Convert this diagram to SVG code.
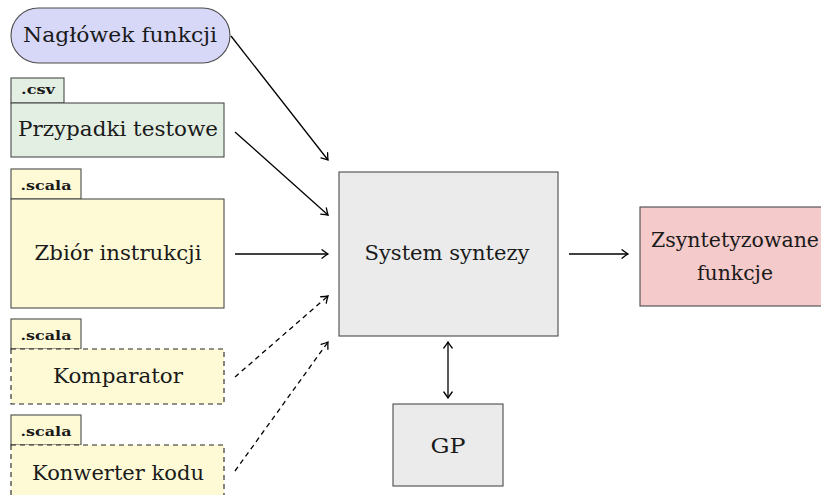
<svg xmlns="http://www.w3.org/2000/svg" width="821" height="495" viewBox="0 0 821 495">
<style>
.box{stroke:#4a4a4a;stroke-width:1.1}
.dash{stroke:#222;stroke-dasharray:5 4}
.lav{fill:#d7d7f7}
.grn{fill:#e3efe3}
.yel{fill:#fefad6}
.gry{fill:#ebebeb}
.pnk{fill:#f4caca}
.t{font-family:"DejaVu Serif","Liberation Serif",serif;font-size:20.5px;fill:#1a1a1a;text-anchor:middle}
.tab{font-family:"DejaVu Serif","Liberation Serif",serif;font-size:12.5px;font-weight:bold;fill:#1a1a1a;text-anchor:middle}
.c{fill:none;stroke:#000;stroke-width:1.3}
</style>
<defs>
<marker id="ah" markerUnits="userSpaceOnUse" markerWidth="14" markerHeight="14" viewBox="-8 -7 10 14" refX="0" refY="0" orient="auto-start-reverse">
<path d="M -6 -4.2 Q -1.8 -1 0 0 Q -1.8 1 -6 4.2" fill="none" stroke="#000" stroke-width="1.3" stroke-linecap="round"/>
</marker>
</defs>
<g id="naglowek">
<rect class="box lav" x="11" y="8" width="219" height="55" rx="27.5" ry="27.5"/>
<text class="t" x="120" y="42" textLength="194" lengthAdjust="spacingAndGlyphs">Nagłówek funkcji</text>
</g>
<g id="przypadki">
<rect class="box grn" x="11" y="78" width="53" height="25"/>
<text class="tab" x="38" y="94" textLength="34" lengthAdjust="spacingAndGlyphs">.csv</text>
<rect class="box grn" x="11" y="103" width="213" height="54"/>
<text class="t" x="118" y="136" textLength="200" lengthAdjust="spacingAndGlyphs">Przypadki testowe</text>
</g>
<g id="zbior">
<rect class="box yel" x="11" y="169" width="70" height="30"/>
<text class="tab" x="46" y="190" textLength="51" lengthAdjust="spacingAndGlyphs">.scala</text>
<rect class="box yel" x="11" y="199" width="213" height="109"/>
<text class="t" x="118" y="260" textLength="167" lengthAdjust="spacingAndGlyphs">Zbiór instrukcji</text>
</g>
<g id="komparator">
<rect class="box yel" x="11" y="319" width="70" height="30"/>
<text class="tab" x="46" y="340" textLength="51" lengthAdjust="spacingAndGlyphs">.scala</text>
<rect class="box yel dash" x="11" y="349" width="213" height="55"/>
<text class="t" x="118" y="383" textLength="130" lengthAdjust="spacingAndGlyphs">Komparator</text>
</g>
<g id="konwerter">
<rect class="box yel" x="11" y="415" width="70" height="30"/>
<text class="tab" x="46" y="436" textLength="51" lengthAdjust="spacingAndGlyphs">.scala</text>
<rect class="box yel dash" x="11" y="445" width="213" height="55"/>
<text class="t" x="118" y="480" textLength="172" lengthAdjust="spacingAndGlyphs">Konwerter kodu</text>
</g>
<g id="system">
<rect class="box gry" x="339" y="172" width="219" height="164"/>
<text class="t" x="447" y="260" textLength="165" lengthAdjust="spacingAndGlyphs">System syntezy</text>
</g>
<g id="gp">
<rect class="box gry" x="393" y="404" width="110" height="82"/>
<text class="t" x="448" y="453" textLength="35" lengthAdjust="spacingAndGlyphs">GP</text>
</g>
<g id="zsyntetyzowane">
<rect class="box pnk" x="640" y="207" width="190" height="99"/>
<text class="t" x="735" y="247" textLength="168" lengthAdjust="spacingAndGlyphs">Zsyntetyzowane</text>
<text class="t" x="735" y="280" textLength="76" lengthAdjust="spacingAndGlyphs">funkcje</text>
</g>
<g id="connectors">
<line class="c" x1="231" y1="36" x2="328" y2="160" marker-end="url(#ah)"/>
<line class="c" x1="235" y1="132" x2="328" y2="215" marker-end="url(#ah)"/>
<line class="c" x1="235" y1="254" x2="328" y2="254" marker-end="url(#ah)"/>
<line class="c dash" x1="235" y1="377" x2="328" y2="296" marker-end="url(#ah)"/>
<line class="c dash" x1="235" y1="471" x2="328" y2="342" marker-end="url(#ah)"/>
<line class="c" x1="569" y1="254" x2="628" y2="254" marker-end="url(#ah)"/>
<line class="c" x1="448" y1="342" x2="448" y2="398" marker-start="url(#ah)" marker-end="url(#ah)"/>
</g>
</svg>
